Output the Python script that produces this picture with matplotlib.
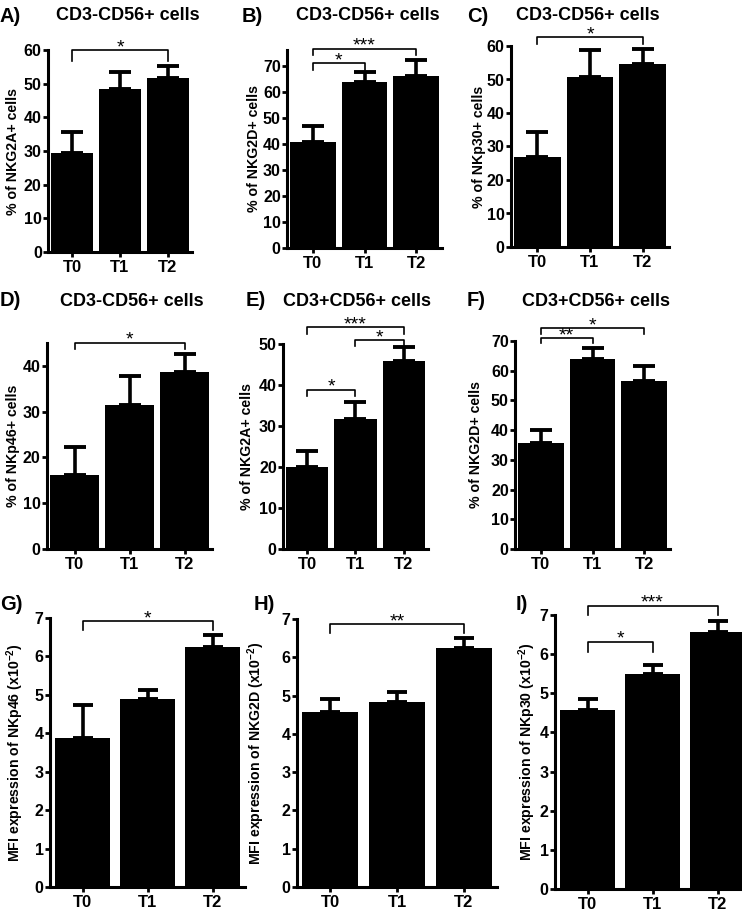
import matplotlib
matplotlib.use("Agg")
import matplotlib.pyplot as plt
import numpy as np

plt.rcParams['font.family'] = ['Liberation Sans', 'DejaVu Sans']
plt.rcParams['font.weight'] = 'bold'
plt.rcParams['mathtext.fontset'] = 'custom'
plt.rcParams['mathtext.rm'] = 'Liberation Sans:bold'
plt.rcParams['mathtext.it'] = 'Liberation Sans:bold'
plt.rcParams['mathtext.bf'] = 'Liberation Sans:bold'

categories = ["T0", "T1", "T2"]

# ---- data (means and SEM) ----
A_vals = [29.3, 48.5, 51.7]
A_err = [6.4, 5.0, 3.5]
B_vals = [40.5, 63.6, 65.9]
B_err = [6.2, 4.0, 6.1]
C_vals = [27.0, 50.7, 54.5]
C_err = [7.4, 8.0, 4.5]
D_vals = [16.1, 31.4, 38.7]
D_err = [6.1, 6.3, 3.9]
E_vals = [20.0, 31.8, 45.9]
E_err = [4.0, 4.0, 3.3]
F_vals = [35.6, 64.1, 56.6]
F_err = [4.4, 3.7, 4.9]
G_vals = [3.88, 4.89, 6.24]
G_err = [0.86, 0.23, 0.33]
H_vals = [4.57, 4.83, 6.23]
H_err = [0.34, 0.27, 0.27]
I_vals = [4.57, 5.49, 6.56]
I_err = [0.29, 0.22, 0.29]

titles = ["CD3-CD56+ cells", "CD3-CD56+ cells", "CD3-CD56+ cells",
          "CD3-CD56+ cells", "CD3+CD56+ cells", "CD3+CD56+ cells",
          None, None, None]
panel_letters = ["A)", "B)", "C)", "D)", "E)", "F)", "G)", "H)", "I)"]
ylabels = ["% of NKG2A+ cells", "% of NKG2D+ cells", "% of NKp30+ cells",
           "% of NKp46+ cells", "% of NKG2A+ cells", "% of NKG2D+ cells",
           r"MFI expression of NKp46 (x10$^{-2}$)",
           r"MFI expression of NKG2D (x10$^{-2}$)",
           r"MFI expression of NKp30 (x10$^{-2}$)"]

# significance brackets: (from, to, height, drop, label)
A_sig = [(0, 2, 60.0, 3.3, "*")]
B_sig = [(0, 2, 76.5, 2.3, "***"), (0, 1, 71.0, 2.6, "*")]
C_sig = [(0, 2, 62.6, 2.0, "*")]
D_sig = [(0, 2, 45.1, 1.5, "*")]
E_sig = [(0, 2, 54.1, 1.6, "***"), (1, 2, 50.9, 1.5, "*"), (0, 1, 38.9, 1.6, "*")]
F_sig = [(0, 2, 74.4, 1.9, "*"), (0, 1, 71.0, 1.6, "**")]
G_sig = [(0, 2, 6.91, 0.21, "*")]
H_sig = [(0, 2, 6.87, 0.24, "**")]
I_sig = [(0, 2, 7.24, 0.24, "***"), (0, 1, 6.32, 0.26, "*")]

values = [A_vals, B_vals, C_vals, D_vals, E_vals, F_vals, G_vals, H_vals, I_vals]
errors = [A_err, B_err, C_err, D_err, E_err, F_err, G_err, H_err, I_err]
sigs = [A_sig, B_sig, C_sig, D_sig, E_sig, F_sig, G_sig, H_sig, I_sig]

# ---- layout (pixels: left, top, right, bottom) ----
W, H = 742, 913
rects = [(48, 50, 192, 252), (287, 50, 442, 248), (511, 46, 669, 247),
         (47, 343, 212, 549), (283, 344, 428, 549), (515, 341, 670, 549),
         (50, 618, 245, 887), (297, 619, 497, 887), (555, 615, 750, 889)]
ylims = [60, 76, 60, 45, 50, 70, 7, 7, 7]
ysteps = [10, 10, 10, 10, 10, 10, 1, 1, 1]
ytops = [60, 70, 60, 40, 50, 70, 7, 7, 7]
# centre of the y-label text (pixels)
ylabel_x = [13, 254, 479, 13, 247, 476, 15, 256, 527]
title_pos = [(128, 16), (368, 16), (588, 16), (132, 301), (357, 301), (596, 301)]
letter_pos = [(0, 16), (242, 16), (467, 16), (0, 301), (246, 301), (467, 301),
              (0, 604), (254, 604), (516, 604)]
bar_widths = [0.88] * 6 + [0.84] * 3

fig = plt.figure(figsize=(W / 100, H / 100), dpi=100)

for k in range(9):
    l, t, r, b = rects[k]
    ax = fig.add_axes([l / W, 1 - b / H, (r - l) / W, (b - t) / H])
    x = np.arange(len(categories))
    vals = values[k]
    errs = errors[k]
    ax.bar(x, vals, width=bar_widths[k], color='black', zorder=2)
    ax.errorbar(x, vals, yerr=[np.zeros(len(errs)), errs], fmt='none',
                ecolor='black', elinewidth=2.6, capsize=8 if k < 6 else 7,
                capthick=2.8, zorder=3)
    ax.set_xlim(-0.5, 2.5)
    ax.set_ylim(0, ylims[k])
    ax.set_yticks(np.arange(0, ytops[k] + ysteps[k] * 0.01, ysteps[k]))
    ax.set_xticks(x)
    ax.set_xticklabels(categories)
    for s in ['top', 'right']:
        ax.spines[s].set_visible(False)
    for s in ['left', 'bottom']:
        ax.spines[s].set_linewidth(2.2)
    ax.tick_params(axis='y', which='major', length=3.5, width=2,
                   labelsize=11.5, pad=1)
    ax.tick_params(axis='x', which='major', length=3.5, width=2,
                   labelsize=12, pad=2)
    for lab in ax.get_yticklabels() + ax.get_xticklabels():
        lab.set_fontweight('bold')
    ax.set_ylabel(ylabels[k], fontsize=10.2, fontweight='bold')
    ax.yaxis.label.set_verticalalignment('center')
    ax.yaxis.set_label_coords((ylabel_x[k] - l) / (r - l), 0.5)

    for (i, j, yb, drop, txt) in sigs[k]:
        ax.plot([i, i, j, j], [yb - drop, yb, yb, yb - drop], color='black',
                lw=1.2, clip_on=False, zorder=4)
        ax.annotate(txt, xy=((i + j) / 2, yb), xytext=(0, -1.5),
                    textcoords='offset points', ha='center', va='baseline',
                    fontsize=14, fontweight='normal', annotation_clip=False)

    if titles[k] is not None:
        tx, ty = title_pos[k]
        fig.text(tx / W, 1 - ty / H, titles[k], ha='center', va='center',
                 fontsize=13, fontweight='bold')
    lx, ly = letter_pos[k]
    fig.text(lx / W, 1 - ly / H, panel_letters[k], ha='left', va='center',
             fontsize=14.5, fontweight='bold')

fig.savefig("out.png", dpi=100)
